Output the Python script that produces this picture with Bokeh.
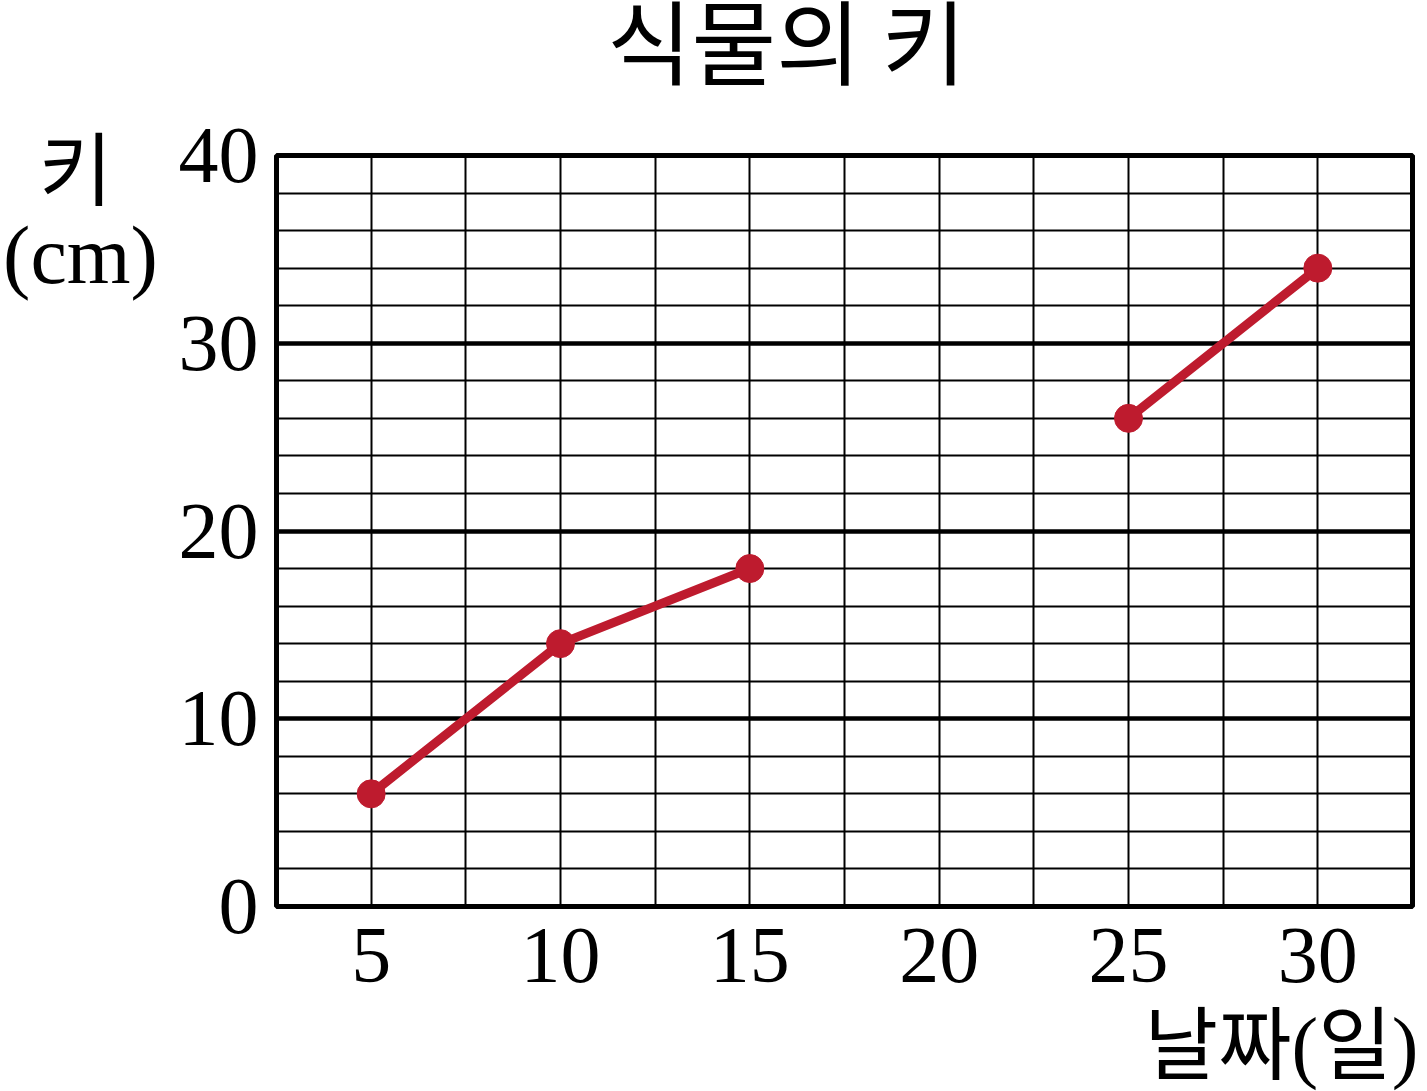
import math
from bokeh.plotting import figure
from bokeh.layouts import column, row
from bokeh.models import FixedTicker, Grid, Range1d
from bokeh.core.properties import value
from bokeh.embed import file_html
from bokeh.resources import INLINE

# ---- data ----
title_text = "식물의 키"
y_label_top = "키"
y_label_unit = "(cm)"
x_label = "날짜(일)"
days = [5, 10, 15, 20, 25, 30]
heights = [6, 14, 18, math.nan, 26, 34]   # day 20 not measured
x_tick_values = [5, 10, 15, 20, 25, 30]
y_tick_values = [0, 10, 20, 30, 40]
x_grid_values = [5, 7.5, 10, 12.5, 15, 17.5, 20, 22.5, 25, 27.5, 30]
y_minor_grid_values = [2, 4, 6, 8, 12, 14, 16, 18, 22, 24, 26, 28, 32, 34, 36, 38]
y_major_grid_values = [10, 20, 30]

RED = "#BE1B2E"
SERIF = "Liberation Serif"
KR = "Noto Sans CJK KR"
MIXED = "'Liberation Serif', 'Noto Sans CJK KR'"

TOTAL_W = 1419
TOTAL_H = 1091
LEFT_W = 170
TOP_H = 100
MAIN_H = 906
BOTTOM_H = TOTAL_H - TOP_H - MAIN_H
FRAME_TOP = 155
FRAME_LEFT = 276
FRAME_H = 751


def strip(w, h):
    """A plain text strip without axes whose frame covers the whole canvas."""
    f = figure(width=w, height=h, output_backend="svg", toolbar_location=None,
               x_range=Range1d(0, w), y_range=Range1d(h, 0), title_location=None,
               x_axis_type=None, y_axis_type=None,
               min_border=0, min_border_left=0, min_border_right=0,
               min_border_top=0, min_border_bottom=0)
    f.grid.visible = False
    f.outline_line_color = None
    f.background_fill_color = "white"
    f.border_fill_color = "white"
    return f


# ---- title strip ----
top = strip(TOTAL_W, TOP_H)
top.text(x=[786], y=[37], text=[title_text], text_font=value(KR), text_font_size="92px",
         text_align="center", text_baseline="middle", text_color="black")

# ---- left strip (y label) ----
left = strip(LEFT_W, MAIN_H)
left.text(x=[75], y=[163 - TOP_H], text=[y_label_top], text_font=value(KR), text_font_size="80px",
          text_align="center", text_baseline="middle", text_color="black")
left.text(x=[80], y=[255 - TOP_H], text=[y_label_unit], text_font=value(SERIF), text_font_size="82px",
          text_align="center", text_baseline="middle", text_color="black")

# ---- main chart ----
p = figure(width=TOTAL_W - LEFT_W, height=MAIN_H, output_backend="svg", toolbar_location=None,
           x_range=Range1d(2.5, 32.5), y_range=Range1d(0, 40),
           title_location=None,
           min_border_left=FRAME_LEFT - LEFT_W, min_border_right=7,
           min_border_top=FRAME_TOP - TOP_H,
           min_border_bottom=MAIN_H - (FRAME_TOP - TOP_H) - FRAME_H)
p.background_fill_color = "white"
p.border_fill_color = "white"
p.outline_line_color = "black"
p.outline_line_width = 5

p.xgrid.ticker = FixedTicker(ticks=x_grid_values)
p.xgrid.grid_line_color = "black"
p.xgrid.grid_line_width = 2
p.ygrid.ticker = FixedTicker(ticks=y_minor_grid_values)
p.ygrid.grid_line_color = "black"
p.ygrid.grid_line_width = 2
p.add_layout(Grid(dimension=1, ticker=FixedTicker(ticks=y_major_grid_values),
                  grid_line_color="black", grid_line_width=4.5))

for ax in (p.xaxis[0], p.yaxis[0]):
    ax.axis_line_color = None
    ax.major_tick_line_color = None
    ax.minor_tick_line_color = None
    ax.major_label_text_font = SERIF
    ax.major_label_text_font_size = "80px"
    ax.major_label_text_color = "black"
p.xaxis[0].ticker = FixedTicker(ticks=x_tick_values)
p.yaxis[0].ticker = FixedTicker(ticks=y_tick_values)
p.xaxis[0].major_label_standoff = 16
p.yaxis[0].major_label_standoff = 12

p.line(days, heights, line_color=RED, line_width=9)
p.scatter(days, heights, size=28, fill_color=RED, line_color=RED)

# ---- bottom strip (x label) ----
bottom = strip(TOTAL_W, BOTTOM_H)
bottom.text(x=[1418], y=[1045 - TOP_H - MAIN_H], text=[x_label], text_font=value(MIXED),
            text_font_size="80px", text_align="right", text_baseline="middle", text_color="black")

# p is wrapped in its own column so the left strip's frame is not aligned to p's frame
layout = column(top, row(left, column(p, spacing=0), spacing=0), bottom, spacing=0)
open("out.html", "w").write(file_html(layout, INLINE))
